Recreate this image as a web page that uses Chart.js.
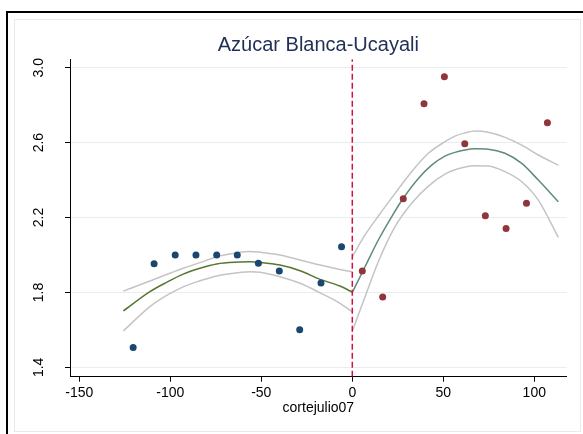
<!DOCTYPE html>
<html>
<head>
<meta charset="utf-8">
<script src="https://cdn.jsdelivr.net/npm/chart.js@4"></script>
<style>
  html, body { margin: 0; padding: 0; background: #ffffff; }
  #wrap { width: 583px; height: 434px; position: relative; }
  canvas { display: block; }
</style>
</head>
<body>
<div id="wrap"><canvas id="c" width="583" height="434"></canvas></div>
<script>
// ---- data ----
const chartTitle = 'Azúcar Blanca-Ucayali';
const xAxisTitle = 'cortejulio07';
const cutoff = 0;

const xTickValues = [-150, -100, -50, 0, 50, 100];
const xTickLabels = ['-150', '-100', '-50', '0', '50', '100'];
const yTickValues = [1.4, 1.8, 2.2, 2.6, 3.0];
const yTickLabels = ['1.4', '1.8', '2.2', '2.6', '3.0'];

// scatter points before / after the cutoff
const preX  = [-120.4, -108.9, -97.3, -85.9, -74.5, -63.2, -51.6, -40.1, -28.9, -17.2, -5.9];
const preY  = [1.506, 1.953, 2.000, 2.000, 2.000, 2.000, 1.956, 1.915, 1.601, 1.850, 2.044];
const postX = [5.5, 16.7, 28.0, 39.4, 50.6, 61.8, 73.1, 84.5, 95.7, 107.2];
const postY = [1.914, 1.775, 2.300, 2.808, 2.952, 2.594, 2.210, 2.142, 2.276, 2.706];

// fitted curve and confidence band, left of cutoff
const leftFitX = [-125.8, -111.2, -102.0, -92.9, -83.7, -74.5, -61.7, -56.0, -51.6, -39.7, -28.7, -17.7, -6.8, 0];
const leftFitY = [1.701, 1.804, 1.854, 1.898, 1.929, 1.952, 1.962, 1.964, 1.961, 1.946, 1.916, 1.870, 1.834, 1.802];
const leftHiX  = [-125.8, -111.2, -92.9, -83.7, -74.5, -67.2, -61.7, -56.2, -50.7, -39.7, -28.7, -17.7, -6.8, 0];
const leftHiY  = [1.807, 1.861, 1.929, 1.959, 1.991, 2.005, 2.015, 2.019, 2.015, 2.000, 1.973, 1.946, 1.923, 1.911];
const leftLoX  = [-125.8, -111.2, -102.0, -92.9, -83.7, -74.5, -67.2, -61.7, -56.0, -50.7, -39.7, -28.7, -17.7, -6.8, 0];
const leftLoY  = [1.594, 1.724, 1.784, 1.830, 1.862, 1.888, 1.900, 1.907, 1.911, 1.908, 1.884, 1.849, 1.798, 1.742, 1.697];

// fitted curve and confidence band, right of cutoff
const rightFitX = [0, 7.0, 14.3, 21.6, 28.0, 36.3, 43.6, 50.9, 56.4, 61.9, 67.4, 74.7, 83.9, 93.1, 102.2, 113.2];
const rightFitY = [1.800, 1.937, 2.080, 2.204, 2.303, 2.409, 2.480, 2.528, 2.548, 2.561, 2.567, 2.565, 2.543, 2.489, 2.400, 2.284];
const rightHiX  = [0, 7.0, 14.3, 23.5, 32.6, 41.8, 50.9, 56.4, 61.9, 67.4, 74.7, 83.9, 93.1, 102.2, 113.2];
const rightHiY  = [1.991, 2.107, 2.208, 2.329, 2.445, 2.543, 2.605, 2.635, 2.652, 2.662, 2.655, 2.628, 2.587, 2.534, 2.480];
const rightLoX  = [0, 7.0, 14.3, 23.5, 32.6, 41.8, 50.9, 56.4, 61.9, 67.4, 74.7, 83.9, 93.1, 102.2, 113.2];
const rightLoY  = [1.592, 1.777, 1.964, 2.151, 2.276, 2.368, 2.432, 2.455, 2.470, 2.477, 2.475, 2.445, 2.391, 2.293, 2.094];

// ---- helpers ----
const zip = (xs, ys) => xs.map((x, i) => ({ x: x, y: ys[i] }));
const X_MIN = -155.1, X_MAX = 117.8, Y_MIN = 1.35, Y_MAX = 3.045;

const navy = '#1a476f', maroon = '#90353b', green = '#55772f', teal = '#5f8a7c', ciGray = '#c4c4c4', crimson = '#d70f3d';

function lineDS(xs, ys, color) {
  return { type: 'scatter', data: zip(xs, ys), showLine: true, borderColor: color, borderWidth: 1.5,
           pointRadius: 0, pointHoverRadius: 0, fill: false, cubicInterpolationMode: 'monotone' };
}

const framePlugin = {
  id: 'frame',
  beforeDraw(chart) {
    const ctx = chart.ctx;
    ctx.save();
    ctx.fillStyle = '#ffffff';
    ctx.fillRect(0, 0, chart.width, chart.height);
    // outer dark frame (left and top visible)
    ctx.strokeStyle = '#000000';
    ctx.lineWidth = 2;
    ctx.beginPath();
    ctx.moveTo(7, chart.height + 2);
    ctx.lineTo(7, 12);
    ctx.lineTo(chart.width + 2, 12);
    ctx.stroke();
    // inner light frame
    ctx.strokeStyle = '#e4ecee';
    ctx.lineWidth = 1;
    ctx.strokeRect(14.5, 19.5, 566, 412);
    ctx.restore();
  }
};

new Chart(document.getElementById('c'), {
  type: 'scatter',
  data: {
    datasets: [
      { data: zip(preX, preY), backgroundColor: navy, borderColor: navy, pointRadius: 3.5, pointBorderWidth: 0 },
      { data: zip(postX, postY), backgroundColor: maroon, borderColor: maroon, pointRadius: 3.5, pointBorderWidth: 0 },
      { data: [{ x: cutoff, y: Y_MIN }, { x: cutoff, y: Y_MAX }], showLine: true, borderColor: crimson,
        borderWidth: 1.5, borderDash: [6, 3], pointRadius: 0 },
      lineDS(leftFitX, leftFitY, green),
      lineDS(rightFitX, rightFitY, teal),
      lineDS(leftHiX, leftHiY, ciGray),
      lineDS(leftLoX, leftLoY, ciGray),
      lineDS(rightHiX, rightHiY, ciGray),
      lineDS(rightLoX, rightLoY, ciGray)
    ]
  },
  options: {
    responsive: false,
    animation: false,
    events: [],
    layout: { padding: { left: 0, right: 16.3, top: 0, bottom: 0 } },
    plugins: {
      legend: { display: false },
      tooltip: { enabled: false },
      title: {
        display: true, text: chartTitle, fullSize: false,
        color: '#1f2f55',
        font: { family: '"Liberation Sans", Arial, sans-serif', size: 20, weight: 'normal', lineHeight: 1.2 },
        padding: { top: 33.5, bottom: 1.8 }
      }
    },
    scales: {
      x: {
        type: 'linear', min: X_MIN, max: X_MAX,
        afterBuildTicks: s => { s.ticks = xTickValues.map(v => ({ value: v })); },
        afterFit: s => { s.height = 57.3; },
        ticks: {
          autoSkip: false, maxRotation: 0, minRotation: 0, padding: 3.5,
          color: '#000', font: { family: '"Liberation Sans", Arial, sans-serif', size: 14 },
          callback: (v) => xTickLabels[xTickValues.indexOf(v)]
        },
        grid: { drawOnChartArea: false, drawTicks: true, tickLength: 5, tickColor: '#000', tickWidth: 1 },
        border: { display: true, color: '#000', width: 1 },
        title: {
          display: true, text: xAxisTitle, color: '#000',
          font: { family: '"Liberation Sans", Arial, sans-serif', size: 14, lineHeight: 1.2 },
          padding: { top: 0, bottom: 17 }
        }
      },
      y: {
        type: 'linear', min: Y_MIN, max: Y_MAX,
        afterBuildTicks: s => { s.ticks = yTickValues.map(v => ({ value: v })); },
        afterFit: s => { s.width = 70; },
        ticks: {
          autoSkip: false, minRotation: 90, maxRotation: 90, crossAlign: 'center', padding: 16.5,
          color: '#000', font: { family: '"Liberation Sans", Arial, sans-serif', size: 14 },
          callback: (v) => yTickLabels[yTickValues.indexOf(v)]
        },
        grid: { drawOnChartArea: true, color: '#e6eef0', lineWidth: 1, drawTicks: true, tickLength: 5, tickColor: '#000', tickWidth: 1 },
        border: { display: true, color: '#000', width: 1 }
      }
    }
  },
  plugins: [framePlugin]
});
</script>
</body>
</html>
